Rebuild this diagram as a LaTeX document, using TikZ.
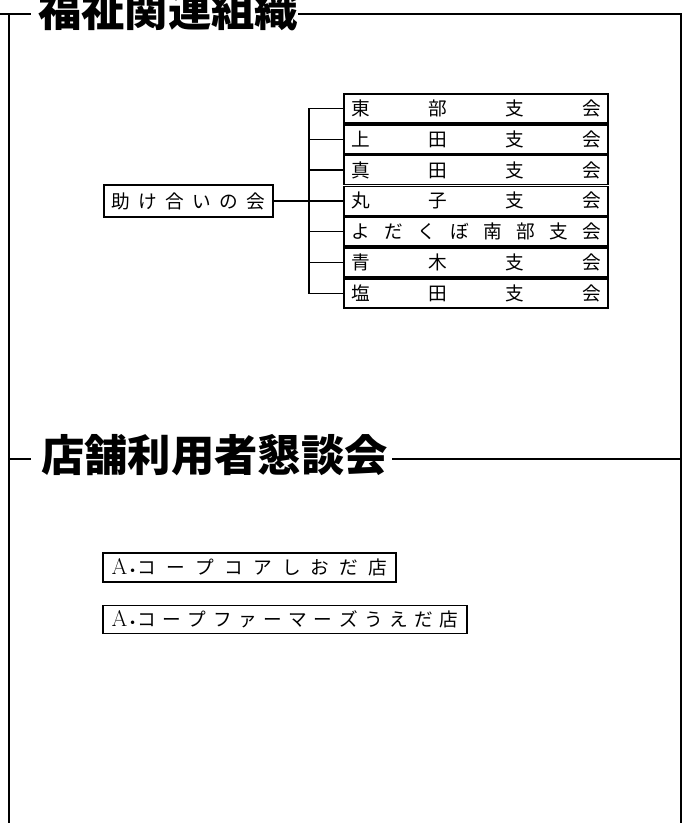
\documentclass[tikz,border=0pt]{standalone}
\usepackage{fontspec}
\usepackage{tikz}
\usetikzlibrary{positioning,calc}
\newfontfamily\jpfont{Noto Sans CJK JP}
\newcommand{\acoop}{{\normalfont\fontsize{17pt}{17pt}\selectfont A\kern0.5pt\raisebox{1pt}{\fontsize{9pt}{9pt}\selectfont\textbullet}}}

\begin{document}
\begin{tikzpicture}[x=0.75pt, y=-0.75pt,
		frame/.style={line width=1.5pt},
		link/.style={line width=1pt},
		title/.style={font=\jpfont\bfseries\fontsize{32.5pt}{32.5pt}\selectfont, inner sep=0pt, anchor=west},
		shibu/.style={draw, line width=1.2pt, minimum width=198pt, minimum height=21.75pt, inner sep=0pt, font=\jpfont\fontsize{14pt}{14pt}\selectfont},
		kai/.style={draw, line width=1.2pt, inner sep=0pt, font=\jpfont\fontsize{14pt}{14pt}\selectfont}]
	\useasboundingbox (0,0) rectangle (688,823);
	\node[title] (fukushi) at (38,10) {福祉関連組織};
	\node[title] (tenpo) at (41,455) {店舗利用者懇談会};
	\draw[frame] (0,14) -- (31,14);
	\draw[frame] (298,14) -- (681,14) -- (681,823);
	\draw[frame] (9,14) -- (9,823);
	\draw[frame] (9,459) -- (31,459);
	\draw[frame] (392,459) -- (681,459);
	\node[kai, minimum width=126.75pt, minimum height=24pt] (help) at (188.5,201) {\makebox[115.5pt]{助\hfill け\hfill 合\hfill い\hfill の\hfill 会}};
	\foreach \i/\txt in {0/{東\hfill 部\hfill 支\hfill 会}, 1/{上\hfill 田\hfill 支\hfill 会}, 2/{真\hfill 田\hfill 支\hfill 会}, 3/{丸\hfill 子\hfill 支\hfill 会}, 4/{よ\hfill だ\hfill く\hfill ぼ\hfill 南\hfill 部\hfill 支\hfill 会}, 5/{青\hfill 木\hfill 支\hfill 会}, 6/{塩\hfill 田\hfill 支\hfill 会}}
		\node[shibu] (shibu\i) at (476,108.5+30.8*\i) {\makebox[187.5pt]{\txt}};
	\coordinate (jt) at (309,201);
	\draw[link] (help.east) -- (help.east -| jt);
	\draw[link] (shibu0.west) -- (jt |- shibu0.west) -- (jt |- shibu6.west) -- (shibu6.west);
	\foreach \i in {1,...,5}
		\draw[link] (jt |- shibu\i.west) -- (shibu\i.west);
	\node[kai, minimum width=219.75pt, minimum height=21.75pt] (shioda) at (249.5,567.5) {\makebox[207pt]{\acoop コ\hfill ー\hfill プ\hfill コ\hfill ア\hfill し\hfill お\hfill だ\hfill 店}};
	\node[kai, minimum width=273pt, minimum height=21pt] (ueda) at (285,619.5) {\makebox[260.25pt]{\acoop コ\hfill ー\hfill プ\hfill フ\hfill ァ\hfill ー\hfill マ\hfill ー\hfill ズ\hfill う\hfill え\hfill だ\hfill 店}};
\end{tikzpicture}
\end{document}
